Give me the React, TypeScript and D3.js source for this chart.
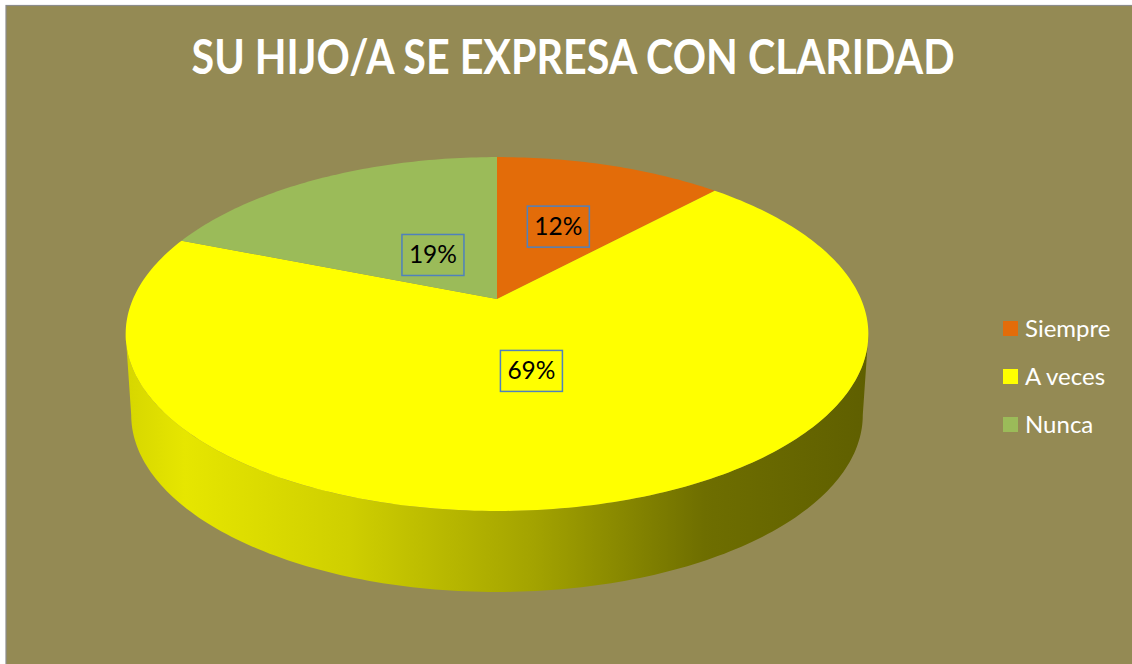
import React from "react";
import * as d3 from "d3";

const title = "SU HIJO/A SE EXPRESA CON CLARIDAD";
const categories = ["Siempre", "A veces", "Nunca"];
const values = [12, 69, 19];
const labels = ["12%", "69%", "19%"];
const colors = ["#E36C09", "#FFFF00", "#9BBB59"];

const W = 1132;
const H = 664;

// projection parameters (perspective tilt of the pie plane)
const CX = 497;
const CY = 299;
const A = 364;
const B = 170;
const K = 0.198;
const DEPTH = 81;
const labelRadius = [0.5, 0.4, 0.33];

function proj(theta: number, r: number, bottom = false): [number, number] {
  const u = Math.sin(theta) * r;
  const v = -Math.cos(theta) * r;
  const w = 1 - K * v;
  const a = bottom ? A * 0.985 : A;
  return [CX + (a * u) / w, CY + (bottom ? DEPTH : 0) + (B * v) / w];
}

function arcPoints(a0: number, a1: number, bottom = false): [number, number][] {
  const n = Math.max(8, Math.ceil(((a1 - a0) / (2 * Math.PI)) * 360));
  return d3.range(n + 1).map((i) => proj(a0 + ((a1 - a0) * i) / n, 1, bottom));
}

export default function App() {
  const pie = d3
    .pie<number>()
    .sort(null)
    .startAngle(0)
    .endAngle(2 * Math.PI)(values);

  const line = d3.line();

  // silhouette angles
  const tR = Math.acos(-K);
  const tL = 2 * Math.PI - tR;
  const sideTop = arcPoints(tR, tL);
  const sideBot = arcPoints(tR, tL, true).reverse();
  const sidePath = line([...sideTop, ...sideBot])! + "Z";

  const xs = [CX - A / Math.sqrt(1 - K * K), CX + A / Math.sqrt(1 - K * K)];

  const legendX = 1003;
  const legendY = 321;
  const legendStep = 48;

  return (
    <svg
      width={W}
      height={H}
      style={{ position: "absolute", left: 0, top: 0 }}
      fontFamily="Lato, 'Open Sans', sans-serif"
    >
      <defs>
        <linearGradient id="sideGrad" gradientUnits="userSpaceOnUse" x1={xs[0]} x2={xs[1]} y1={0} y2={0}>
          <stop offset="0" stopColor="#d6d600" />
          <stop offset="0.08" stopColor="#e6e600" />
          <stop offset="0.3" stopColor="#cfcf00" />
          <stop offset="0.55" stopColor="#a3a300" />
          <stop offset="0.78" stopColor="#6e6e00" />
          <stop offset="1" stopColor="#5f5f00" />
        </linearGradient>
      </defs>
      <rect x={0} y={0} width={W} height={H} fill="#ffffff" />
      <rect x={6} y={5.5} width={W} height={H} fill="#948A54" stroke="#8c8c8c" strokeWidth={1.2} />

      <text
        x={573}
        y={74}
        textAnchor="middle"
        fontSize={47}
        fontWeight="bold"
        fill="#ffffff"
        textLength={763}
        lengthAdjust="spacingAndGlyphs"
      >
        {title}
      </text>

      {/* side wall */}
      <path d={sidePath} fill="url(#sideGrad)" />

      {/* top faces */}
      {pie.map((s, i) => {
        const pts = [proj(0, 0), ...arcPoints(s.startAngle, s.endAngle)];
        return <path key={categories[i]} d={line(pts)! + "Z"} fill={colors[i]} />;
      })}

      {/* data labels */}
      {pie.map((s, i) => {
        const mid = (s.startAngle + s.endAngle) / 2;
        const [x, y] = proj(mid, labelRadius[i]);
        return (
          <g key={"l" + i}>
            <rect x={x - 31} y={y - 20.5} width={62} height={41} fill="none" stroke="#4F81BD" strokeWidth={1.5} />
            <text x={x} y={y + 8.5} textAnchor="middle" fontSize={24.5} fill="#000000">
              {labels[i]}
            </text>
          </g>
        );
      })}

      {/* legend */}
      {categories.map((c, i) => (
        <g key={"lg" + c}>
          <rect x={legendX} y={legendY + i * legendStep} width={15} height={15} fill={colors[i]} />
          <text x={legendX + 22} y={legendY + i * legendStep + 16} fontSize={24} fill="#ffffff">
            {c}
          </text>
        </g>
      ))}
    </svg>
  );
}
